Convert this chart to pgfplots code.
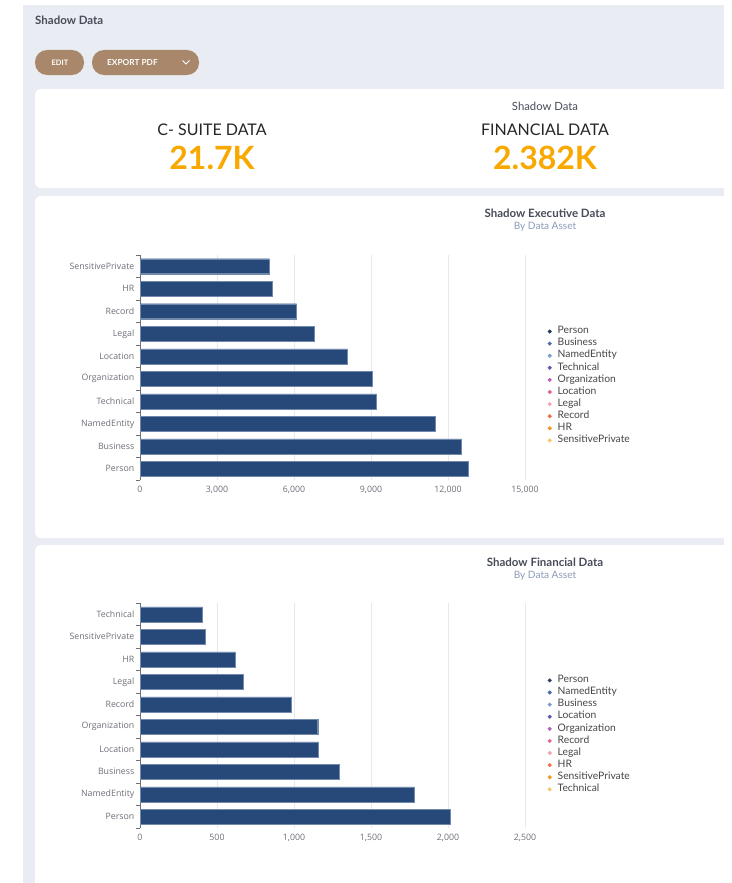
\documentclass[border=0pt]{standalone}
\usepackage{fontspec}
\setmainfont{Lato}
\newfontfamily\tickfont{Open Sans}
\usepackage{pgfplots}
\pgfplotsset{compat=1.18}
\definecolor{bgc}{HTML}{E9ECF2}
\definecolor{btn}{HTML}{A8876A}
\definecolor{orng}{HTML}{F9A800}
\definecolor{barc}{HTML}{27497A}
\definecolor{baro}{HTML}{7089AD}
\definecolor{gridc}{HTML}{E6E9F0}
\definecolor{axc}{HTML}{6E7079}
\definecolor{legt}{HTML}{464646}
\definecolor{ttl}{HTML}{474C58}
\definecolor{sub}{HTML}{8C9BB8}
\definecolor{Lone}{HTML}{2C3E5E}
\definecolor{Ltwo}{HTML}{4A6BA3}
\definecolor{Lthree}{HTML}{7A9BD1}
\definecolor{Lfour}{HTML}{5B5BAE}
\definecolor{Lfive}{HTML}{B65DBE}
\definecolor{Lsix}{HTML}{E85F9A}
\definecolor{Lseven}{HTML}{F4A3AE}
\definecolor{Leight}{HTML}{F36D45}
\definecolor{Lnine}{HTML}{F7941D}
\definecolor{Lten}{HTML}{F9C562}
\pgfplotsset{
  dash/.style={
    scale only axis, width=385pt, height=225pt, anchor=south west,
    ymin=-0.5, ymax=9.5, ytick={0,...,9},
    minor ytick={-0.5,0.5,...,9.5},
    axis y line*=left, axis x line*=bottom,
    x axis line style={draw=none}, y axis line style={draw=axc, line width=0.6pt},
    major tick length=0pt, minor tick length=4pt, tick align=outside,
    minor y tick style={draw=axc, line width=0.6pt},
    xtick style={draw=none},
    xmajorgrids, grid style={draw=gridc, line width=0.7pt},
    /pgf/number format/assume math mode=true,
    /pgf/number format/1000 sep={,}, scaled x ticks=false,
    ticklabel style={font=\tickfont\fontsize{8.8}{10}\selectfont, text=axc},
    yticklabel style={inner sep=0pt, xshift=-5.5pt},
    xticklabel style={yshift=-3pt},
    legend image code/.code={\fill[##1] (0pt,0pt) circle (1.8pt);},
    legend style={at={(rel axis cs:1.059,0.418)}, anchor=west, draw=none, fill=none,
      inner sep=0pt, outer sep=0pt, row sep=2.6pt, column sep=6pt,
      font=\fontsize{10.3}{11}\selectfont, text=legt,
      nodes={inner sep=0pt, text height=7pt, text depth=2.5pt}},
    legend cell align=left,
  },
  bars/.style={forget plot, xbar, bar width=15pt, bar shift=0pt, fill=barc, draw=baro, line width=0.4pt},
}
\begin{document}
\begin{tikzpicture}[x=1pt,y=1pt]
\useasboundingbox (0,0) rectangle (731,-883);
\clip (0,0) rectangle (731,-883);
\fill[white] (0,0) rectangle (731,-883);
\fill[bgc] (23,-5) rectangle (724,-883);
% header
\node[anchor=west, text=ttl, font=\bfseries\fontsize{11.5}{13}\selectfont, inner sep=0pt] at (35,-20) {Shadow Data};
\fill[btn, rounded corners=12pt] (35,-50) rectangle (84,-75);
\node[text=white, font=\bfseries\fontsize{7.5}{9}\selectfont] at (60,-62.5) {EDIT};
\fill[btn, rounded corners=12pt] (92,-50) rectangle (199,-75);
\node[anchor=west, inner sep=0pt, text=white, font=\bfseries\fontsize{8.3}{9}\selectfont] at (107,-62.5) {EXPORT PDF};
\draw[white, line width=1pt] (182.5,-60.5) -- (186,-64) -- (189.5,-60.5);
% cards
\fill[white, rounded corners=6pt] (35,-89) rectangle (740,-188);
\fill[white, rounded corners=6pt] (35,-196) rectangle (740,-538);
\fill[white, rounded corners=6pt] (35,-545) rectangle (740,-900);
\fill[white] (724,0) rectangle (731,-883);
% KPI card
\node[text=ttl, font=\fontsize{11.3}{13}\selectfont] at (545,-106) {Shadow Data};
\node[text=black!85, font=\fontsize{16}{18}\selectfont] at (212,-130) {C- SUITE DATA};
\node[text=orng, font=\bfseries\fontsize{32}{36}\selectfont] at (212,-158) {21.7K};
\node[text=black!85, font=\fontsize{16}{18}\selectfont] at (545,-130) {FINANCIAL DATA};
\node[text=orng, font=\bfseries\fontsize{32}{36}\selectfont] at (545,-158) {2.382K};
% chart titles
\node[text=ttl, font=\bfseries\fontsize{11.5}{13}\selectfont] at (545,-213) {Shadow Executive Data};
\node[text=sub, font=\fontsize{10.1}{12}\selectfont] at (545,-226.5) {By Data Asset};
\node[text=ttl, font=\bfseries\fontsize{11.5}{13}\selectfont] at (545,-562) {Shadow Financial Data};
\node[text=sub, font=\fontsize{10.1}{12}\selectfont] at (545,-575.5) {By Data Asset};

\begin{axis}[dash, at={(140pt,-480pt)},
  xmin=0, xmax=15000, xtick={0,3000,...,15000},
  yticklabels={Person,Business,NamedEntity,Technical,Organization,Location,Legal,Record,HR,SensitivePrivate}]
\addplot[bars] coordinates {
 (12805,0) (12533,1) (11494,2) (9221,3) (9052,4) (8065,5) (6792,6) (6104,7) (5168,8) (5038,9)};
\addlegendimage{Lone}\addlegendentry{Person}
\addlegendimage{Ltwo}\addlegendentry{Business}
\addlegendimage{Lthree}\addlegendentry{NamedEntity}
\addlegendimage{Lfour}\addlegendentry{Technical}
\addlegendimage{Lfive}\addlegendentry{Organization}
\addlegendimage{Lsix}\addlegendentry{Location}
\addlegendimage{Lseven}\addlegendentry{Legal}
\addlegendimage{Leight}\addlegendentry{Record}
\addlegendimage{Lnine}\addlegendentry{HR}
\addlegendimage{Lten}\addlegendentry{SensitivePrivate}
\end{axis}

\begin{axis}[dash, at={(140pt,-828pt)},
  xmin=0, xmax=2500, xtick={0,500,...,2500},
  legend style={at={(rel axis cs:1.059,0.414)}},
  yticklabels={Person,NamedEntity,Business,Location,Organization,Record,Legal,HR,SensitivePrivate,Technical}]
\addplot[bars] coordinates {
 (2013,0) (1781,1) (1294,2) (1158,3) (1154,4) (985,5) (669,6) (617,7) (426,8) (407,9)};
\addlegendimage{Lone}\addlegendentry{Person}
\addlegendimage{Ltwo}\addlegendentry{NamedEntity}
\addlegendimage{Lthree}\addlegendentry{Business}
\addlegendimage{Lfour}\addlegendentry{Location}
\addlegendimage{Lfive}\addlegendentry{Organization}
\addlegendimage{Lsix}\addlegendentry{Record}
\addlegendimage{Lseven}\addlegendentry{Legal}
\addlegendimage{Leight}\addlegendentry{HR}
\addlegendimage{Lnine}\addlegendentry{SensitivePrivate}
\addlegendimage{Lten}\addlegendentry{Technical}
\end{axis}
\end{tikzpicture}
\end{document}
